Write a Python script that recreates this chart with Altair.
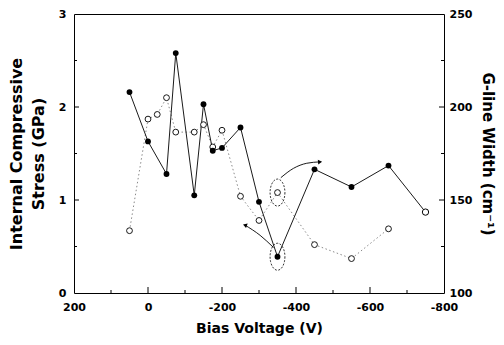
import math
import altair as alt
import pandas as pd

# ---------------- data ----------------
bias_stress = [50, 0, -50, -75, -125, -150, -175, -200, -250, -300, -350, -450, -550, -650, -750]
stress_gpa = [2.16, 1.63, 1.28, 2.58, 1.05, 2.03, 1.53, 1.56, 1.78, 0.98, 0.39, 1.33, 1.14, 1.37, 0.87]

bias_gline = [50, 0, -25, -50, -75, -125, -150, -175, -200, -250, -300, -350, -450, -550, -650]
gline_width = [133.5, 193.5, 196, 205, 186.5, 186.5, 190.5, 178.5, 187.5, 152, 139, 154, 126, 118.5, 134.5]

x_label_values = [200, 0, -200, -400, -600, -800]
x_major_ticks = [0, -200, -400, -600]
x_minor_ticks = [100, -100, -300, -500, -700]
stress_label_values = [0, 1, 2, 3]
stress_major_ticks = [1, 2]
stress_minor_ticks = [0.5, 1.5, 2.5]
gline_label_values = [100, 150, 200, 250]
gline_major_ticks = [150, 200]
gline_minor_ticks = [125, 175, 225]

# annotations (data units)
circled_bias = [-350]
circled_stress = [0.39]
circled_gline = [154]
arrow_up_bias = [-359, -393, -429, -465]
arrow_up_stress = [1.24, 1.34, 1.395, 1.41]
arrow_low_bias = [-339, -303, -262]
arrow_low_stress = [0.49, 0.62, 0.73]

# ---------------- layout / style ----------------
W, H = 370, 279
FONT = "DejaVu Sans"

xs = alt.Scale(domain=[-800, 200], reverse=True, nice=False, zero=False)
ys = alt.Scale(domain=[0, 3], nice=False)
yg = alt.Scale(domain=[100, 250], nice=False, zero=False)

# ellipse outline as a custom symbol path (unit coordinates)
pts = []
for k in range(36):
    a = 2 * math.pi * k / 36
    pts.append(f"{0.55*math.cos(a):.3f},{math.sin(a):.3f}")
ELLIPSE = "M" + " L".join(pts) + " Z"

stress_df = pd.DataFrame({"bias": bias_stress, "stress": stress_gpa})
g_df = pd.DataFrame({"bias": bias_gline, "gline": gline_width})

x_axis = alt.Axis(
    values=x_label_values,
    labelExpr="datum.value < 0 ? datum.value + '\u2002' : datum.value + ''",
    tickSize=0, domain=False, grid=False, labelFlush=False,
    labelFont=FONT, labelFontSize=11, labelFontWeight="bold", labelColor="black",
    labelPadding=8,
    titleFont=FONT, titleFontSize=14, titleFontWeight="bold", titleColor="black",
    titlePadding=9,
)
X = alt.X("bias:Q", scale=xs, axis=x_axis, title="Bias Voltage (V)")

left_axis = alt.Axis(
    values=stress_label_values, format="d",
    tickSize=0, domain=False, grid=False,
    labelFont=FONT, labelFontSize=11, labelFontWeight="bold", labelColor="black",
    labelPadding=8,
    titleFont=FONT, titleFontSize=16, titleFontWeight="bold", titleColor="black",
    titleAngle=-90, titleX=-58, titleY=H / 2, titleBaseline="middle", titleAlign="center",
    titleLineHeight=22,
)
right_axis = alt.Axis(
    values=gline_label_values, format="d", orient="right",
    tickSize=0, domain=False, grid=False,
    labelFont=FONT, labelFontSize=11, labelFontWeight="bold", labelColor="black",
    labelPadding=5,
    titleFont=FONT, titleFontSize=15, titleFontWeight="bold", titleColor="black",
    titleAngle=90, titleX=43, titleY=H / 2, titleBaseline="middle", titleAlign="center",
)

base_s = alt.Chart(stress_df)
base_g = alt.Chart(g_df)

g_line = base_g.mark_line(color="#8a8a8a", strokeWidth=1, strokeDash=[1.5, 2.5]).encode(
    x=X,
    y=alt.Y("gline:Q", scale=yg, axis=right_axis, title="G-line Width (cm\u207b\u00b9)"),
)
stress_line = base_s.mark_line(color="#1a1a1a", strokeWidth=1).encode(
    x=X,
    y=alt.Y("stress:Q", scale=ys, axis=left_axis,
            title=["Internal Compressive", "Stress (GPa)"]),
)
stress_pts = base_s.transform_filter("datum.bias > -700").mark_point(
    shape="circle", filled=True, color="black", size=34, opacity=1
).encode(
    x=X,
    y=alt.Y("stress:Q", scale=ys, axis=None),
)
stress_end = base_s.transform_filter("datum.bias <= -700").mark_point(
    shape="circle", filled=True, fill="white", stroke="black", strokeWidth=1, size=40, opacity=1
).encode(
    x=X,
    y=alt.Y("stress:Q", scale=ys, axis=None),
)
g_pts = base_g.mark_point(
    shape="circle", filled=True, fill="white", stroke="black", strokeWidth=0.9, size=34, opacity=1
).encode(
    x=X,
    y=alt.Y("gline:Q", scale=yg, axis=None),
)

# inner tick marks
def xticks(vals, length):
    return alt.Chart(pd.DataFrame({"bias": vals})).mark_rule(color="black", strokeWidth=1).encode(
        x=X,
        y=alt.value(H), y2=alt.value(H - length),
    )

def sticks(vals, length):
    return alt.Chart(pd.DataFrame({"stress": vals})).mark_rule(color="black", strokeWidth=1).encode(
        y=alt.Y("stress:Q", scale=ys, axis=None),
        x=alt.value(0), x2=alt.value(length),
    )

def gticks(vals, length):
    return alt.Chart(pd.DataFrame({"gline": vals})).mark_rule(color="black", strokeWidth=1).encode(
        y=alt.Y("gline:Q", scale=yg, axis=None),
        x=alt.value(W), x2=alt.value(W - length),
    )

# annotations
ell_low = alt.Chart(pd.DataFrame({"bias": circled_bias, "stress": circled_stress})).mark_point(
    shape=ELLIPSE, size=729, filled=False, stroke="black", strokeWidth=0.8, strokeDash=[2, 1.5], opacity=1
).encode(
    x=X,
    y=alt.Y("stress:Q", scale=ys, axis=None),
)
ell_up = alt.Chart(pd.DataFrame({"bias": circled_bias, "gline": circled_gline})).mark_point(
    shape=ELLIPSE, size=729, filled=False, stroke="black", strokeWidth=0.8, strokeDash=[2, 1.5], opacity=1
).encode(
    x=X,
    y=alt.Y("gline:Q", scale=yg, axis=None),
)
arr_up_df = pd.DataFrame({"bias": arrow_up_bias, "stress": arrow_up_stress})
arr_low_df = pd.DataFrame({"bias": arrow_low_bias, "stress": arrow_low_stress})
arr_up = alt.Chart(arr_up_df).mark_line(color="black", strokeWidth=0.9, interpolate="monotone").encode(
    x=X,
    y=alt.Y("stress:Q", scale=ys, axis=None),
)
arr_low = alt.Chart(arr_low_df).mark_line(color="black", strokeWidth=0.9, interpolate="monotone").encode(
    x=X,
    y=alt.Y("stress:Q", scale=ys, axis=None),
)
head_up = alt.Chart(arr_up_df.tail(1)).mark_point(
    shape="triangle-right", filled=True, color="black", size=22, opacity=1, angle=355
).encode(
    x=X,
    y=alt.Y("stress:Q", scale=ys, axis=None),
)
head_low = alt.Chart(arr_low_df.tail(1)).mark_point(
    shape="triangle-left", filled=True, color="black", size=22, opacity=1, angle=20
).encode(
    x=X,
    y=alt.Y("stress:Q", scale=ys, axis=None),
)

chart = alt.layer(
    g_line, stress_line,
    xticks(x_major_ticks, 6), xticks(x_minor_ticks, 3),
    sticks(stress_major_ticks, 5), sticks(stress_minor_ticks, 3),
    gticks(gline_major_ticks, 5), gticks(gline_minor_ticks, 3),
    ell_low, ell_up, arr_up, arr_low, head_up, head_low,
    g_pts, stress_pts, stress_end,
).resolve_scale(y="independent").properties(
    width=W, height=H,
    autosize=alt.AutoSizeParams(type="none"),
    padding={"left": 66, "top": 6, "right": 52, "bottom": 44},
    background="white",
).configure_view(stroke="black", strokeWidth=1)

chart.save("out.html", embed_options={"renderer": "svg", "actions": False})
